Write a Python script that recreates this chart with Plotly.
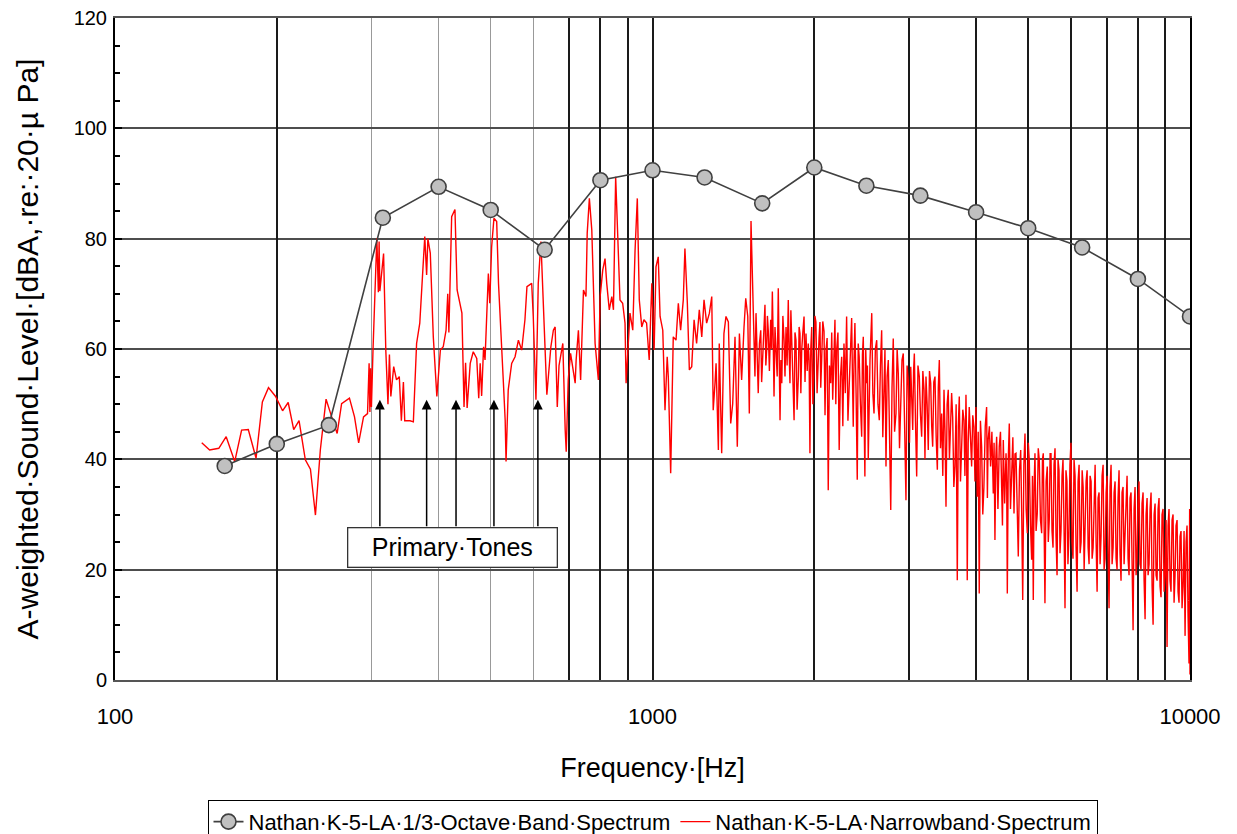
import math
import plotly.graph_objects as go

FONT = "Arial, 'Liberation Sans', Helvetica, sans-serif"

# 1/3-octave band spectrum
band_freqs = [160, 200, 250, 315, 400, 500, 630, 800, 1000, 1250, 1600, 2000,
              2500, 3150, 4000, 5000, 6300, 8000, 10000]
band_levels = [38.8, 42.8, 46.2, 83.8, 89.4, 85.2, 78.0, 90.6, 92.4, 91.1, 86.4, 92.9,
               89.6, 87.8, 84.8, 81.9, 78.4, 72.7, 65.9]

# narrowband spectrum (in chunks)
nb_f_a = [145, 150, 156, 161, 167, 172, 177, 183, 188, 193, 199, 205, 210, 215, 220, 226,
          231, 236, 241, 247, 253, 259, 264, 273, 279, 284, 290, 295, 297, 298, 299, 300, 302]
nb_l_a = [43.0, 41.7, 42.0, 44.1, 39.6, 45.3, 45.4, 40.2, 50.4, 53.0, 51.4, 48.8, 50.3, 45.4, 47.0, 39.9,
          38.2, 29.9, 41.7, 50.9, 47.7, 44.7, 50.1, 51.1, 47.7, 43.0, 47.7, 48.3, 57.4, 48.6, 56.5, 49.5, 59.8]

nb_f_b = [307, 309, 310, 311, 316, 319, 322, 324, 326, 330,
          334, 338, 341, 344, 346, 354, 359, 364, 369, 377,
          380, 382, 386, 391, 397, 403, 408, 413, 416, 418,
          423, 429, 433, 442, 446, 449, 452, 458, 464, 471,
          475, 478, 481, 485, 488, 495, 498, 502, 507, 513,
          517, 528, 532, 534, 536, 539, 547, 555, 563, 571,
          579, 584, 596, 600, 607, 613, 620, 626, 636, 647,
          654, 659, 665, 670, 681, 688, 691, 697, 704]
nb_l_b = [80.1, 70.3, 79.5, 70.5, 77.3, 59.8, 50.0, 59.0, 51.4, 56.8,
          54.4, 55.0, 47.0, 54.0, 47.0, 47.0, 46.8, 61.0, 64.7, 80.4,
          73.4, 80.0, 77.4, 62.2, 51.4, 59.8, 60.4, 63.4, 70.0, 63.0,
          84.0, 85.3, 70.7, 66.5, 49.5, 57.5, 49.3, 57.4, 59.5, 58.3,
          51.1, 57.4, 51.5, 60.4, 58.0, 73.7, 68.3, 78.5, 83.7, 83.1,
          71.9, 53.8, 47.1, 39.6, 45.0, 52.6, 57.4, 58.6, 61.6, 59.8,
          65.3, 71.3, 71.9, 65.9, 50.8, 71.9, 79.5, 68.3, 51.7, 60.4,
          63.4, 64.0, 49.5, 57.0, 61.0, 45.3, 41.4, 54.4, 59.2]

nb_f_c = [718, 721, 728, 735, 744, 752, 756, 763, 771, 782,
          793, 799, 808, 816, 822, 831, 840, 846, 854, 864,
          870, 880, 889, 893, 902, 908, 919, 928, 937, 945,
          955, 964, 975, 986, 997, 1007, 1015, 1025, 1033, 1045,
          1055, 1065, 1070, 1081, 1093, 1106, 1117, 1128, 1141, 1149,
          1161, 1171, 1183, 1195, 1208, 1222, 1235, 1247, 1261, 1276,
          1289, 1297, 1307, 1313, 1326, 1331, 1345, 1358, 1370, 1384,
          1398, 1410, 1424, 1438, 1451, 1465, 1480, 1491, 1504, 1514,
          1525]
nb_l_c = [53.8, 58.0, 63.4, 54.4, 70.7, 69.5, 81.0, 87.3, 81.6, 61.0,
          54.4, 69.5, 74.3, 76.4, 71.9, 67.1, 69.5, 67.1, 91.2, 75.5,
          68.9, 68.3, 64.7, 53.8, 62.2, 66.5, 63.4, 77.9, 87.3, 68.9,
          64.0, 65.3, 64.7, 58.0, 71.9, 59.8, 74.9, 76.7, 65.9, 63.4,
          48.9, 58.6, 55.0, 37.5, 62.2, 61.6, 68.3, 63.4, 68.9, 78.2,
          68.3, 56.2, 56.8, 65.3, 61.0, 67.1, 62.2, 68.9, 64.7, 66.5,
          69.5, 48.9, 53.8, 57.4, 41.7, 61.0, 41.1, 62.8, 65.9, 64.9,
          46.5, 50.1, 62.2, 42.3, 62.8, 54.4, 64.0, 69.2, 65.9, 48.3,
          83.2]

nb_f_d = [1545, 1551, 1558, 1565, 1573, 1581, 1590, 1596, 1603, 1611,
          1619, 1625, 1631, 1636, 1642, 1650, 1659, 1665, 1671, 1677,
          1683, 1690, 1698, 1706, 1714, 1720, 1727, 1733, 1740, 1748,
          1757, 1764, 1772, 1780, 1789, 1795, 1802, 1809, 1816, 1825,
          1834, 1841, 1849, 1858, 1868, 1874, 1881, 1888, 1895, 1904,
          1914, 1922, 1930, 1940, 1949, 1956, 1963, 1970, 1978, 1988,
          1997, 2005, 2014, 2024, 2034, 2041, 2049, 2056, 2064, 2074,
          2085, 2094, 2103, 2113, 2123, 2134, 2146, 2155, 2164, 2174,
          2185, 2193, 2201, 2213, 2225, 2237, 2249, 2260, 2271, 2284,
          2297, 2310, 2323, 2335, 2347, 2355, 2363, 2371, 2380, 2392,
          2404, 2414, 2424, 2437, 2450, 2458, 2467, 2475, 2484, 2493,
          2503, 2511, 2520, 2539]
nb_l_d = [62.2, 55, 66.5, 58, 52.0, 61, 63.4, 54, 58.0, 64,
          68.0, 57, 59.8, 66, 63.4, 56, 65.3, 60, 70.4, 62,
          51.4, 64, 59.8, 55, 71.0, 60, 47.1, 58, 53.8, 66,
          61.6, 55, 64.0, 57, 68.9, 60, 53.8, 67, 62.2, 56,
          47.1, 63, 61.6, 49, 55.0, 64, 62.8, 52, 59.8, 63,
          65.9, 54, 62.8, 56, 61.0, 58, 41.1, 60, 64.0, 50,
          55.6, 66, 64.9, 52, 59.8, 62, 64.9, 53, 58.0, 65,
          63.2, 48, 59.8, 62, 34.4, 57, 53.8, 63, 50.8, 58,
          65.3, 50, 59.8, 63, 41.7, 55, 58.6, 46, 61.0, 52,
          65.9, 47, 53.2, 60, 65.6, 55, 45.9, 58, 64.7, 52,
          36.3, 61, 58.6, 50, 44.1, 59, 62.2, 49, 36.9, 60,
          53.8, 57, 39.9, 58]

nb_f_e = [2558, 2570, 2583, 2598, 2613, 2627, 2642, 2655, 2669, 2682,
          2696, 2707, 2719, 2732, 2746, 2760, 2775, 2790, 2805, 2821,
          2838, 2852, 2866, 2881, 2896, 2912, 2928, 2945, 2962, 2976,
          2991, 3007, 3023, 3036, 3049, 3060, 3070, 3085, 3101, 3118,
          3136, 3152, 3168, 3184, 3200, 3213, 3227, 3243, 3259, 3276,
          3293, 3307, 3321, 3337, 3354, 3371, 3388, 3402, 3417, 3434,
          3451, 3468, 3486, 3501, 3516, 3533, 3550, 3568, 3587, 3602,
          3618, 3636, 3654, 3672, 3690, 3706, 3722, 3741, 3760, 3778,
          3797, 3813, 3830, 3840, 3851, 3867, 3884, 3904, 3924, 3943,
          3963, 3980, 3997, 4008, 4019, 4036, 4054, 4075, 4096, 4116,
          4136, 4160, 4184, 4198, 4212, 4234, 4256, 4280, 4305, 4320,
          4336, 4352, 4368, 4392, 4417, 4440, 4463, 4478, 4494, 4520,
          4547, 4560, 4572, 4591, 4611, 4635, 4659, 4682, 4705, 4725,
          4745, 4768, 4792, 4817, 4842, 4863, 4884, 4908, 4932, 4956,
          4981, 5002, 5023, 5049, 5075, 5092, 5110, 5128, 5147, 5172,
          5198, 5220, 5243, 5270, 5297, 5315, 5334, 5353, 5372, 5399,
          5426, 5449, 5472, 5492]
nb_l_e = [66.5, 52, 48.3, 60, 61.6, 50, 47.1, 57, 63.4, 44,
          50.8, 60, 38.7, 55, 58.0, 46, 30.8, 53, 61.9, 45,
          48.3, 60, 55.6, 42, 52.6, 58, 59.2, 44, 32.6, 57,
          54.4, 43, 56.8, 51, 45.3, 56, 59.2, 47, 36.9, 57,
          55.0, 48, 44.1, 56, 52.6, 40, 55.0, 50, 41.7, 56,
          53.8, 46, 42.3, 54, 55.0, 44, 38.1, 53, 58.0, 42,
          48.3, 37, 52.6, 45, 31.4, 50, 52.6, 40, 45.3, 52,
          47.7, 35, 38.7, 50, 18.1, 46, 51.4, 36, 42.3, 49,
          47.1, 37, 51.7, 44, 18.1, 43, 49.5, 44, 38.7, 48,
          45.9, 36, 49.5, 41, 33.2, 45, 15.7, 47, 42.3, 30,
          35.0, 46, 49.5, 33, 43.5, 46, 38.7, 45, 33.8, 43,
          25.4, 40, 44.1, 31, 42.3, 45, 35.0, 28, 43.5, 32,
          41.1, 36, 15.7, 40, 46.5, 31, 37.5, 44, 30.2, 41,
          41.1, 29, 22.4, 38, 41.7, 30, 14.5, 39, 44.7, 31,
          26.6, 43, 39.9, 28, 21.8, 37, 14.5, 35, 41.1, 27,
          30.2, 42, 39.9, 29, 26.6, 40, 41.1, 28, 13.9, 36,
          38.7, 25, 29.0, 41]

nb_f_f = [5513, 5537, 5561, 5585, 5609, 5633, 5658, 5682, 5706, 5730,
          5755, 5780, 5804, 5829, 5854, 5878, 5903, 5928, 5953, 5979,
          6005, 6031, 6058, 6085, 6112, 6138, 6165, 6191, 6218, 6245,
          6272, 6300, 6327, 6354, 6381, 6408, 6436, 6463, 6490, 6518,
          6546, 6575, 6603, 6631, 6660, 6688, 6717, 6745, 6774, 6803,
          6832, 6862, 6892, 6921, 6951, 6981, 7011, 7040, 7070, 7100,
          7131, 7162, 7193, 7224, 7255, 7286, 7317, 7348, 7379, 7410,
          7442, 7475, 7507, 7540, 7572, 7605, 7637, 7670, 7702, 7735,
          7768, 7802, 7836, 7870, 7903, 7937, 7971, 8005, 8038, 8073,
          8108, 8143, 8179, 8215, 8250, 8285, 8321, 8357, 8392, 8428,
          8464, 8501, 8538, 8575, 8611, 8648, 8685, 8722, 8758, 8796,
          8833, 8872, 8910, 8949, 8987, 9026, 9064, 9103, 9141, 9180,
          9219, 9260, 9300, 9340, 9380, 9420, 9461, 9501, 9541, 9582,
          9623, 9665, 9707, 9749, 9791, 9833, 9874, 9916, 9958, 9985,
          10000]
nb_l_f = [41, 27, 24, 39, 42, 26, 19, 40, 38, 23,
          27, 37, 40, 28, 13, 38, 36, 21, 26, 39,
          43, 25, 22, 40, 37, 24, 16, 36, 39, 23,
          25, 38, 35, 20, 28, 36, 38, 24, 21, 37,
          36, 22, 24, 35, 39, 25, 16, 33, 34, 21,
          26, 37, 39, 20, 22, 34, 37, 23, 13, 35,
          39, 21, 24, 34, 36, 22, 20, 33, 38, 23,
          18, 34, 35, 21, 25, 32, 37, 22, 19, 33,
          34, 20, 9, 31, 35, 19, 22, 33, 36, 21,
          20, 32, 34, 18, 11, 30, 33, 19, 21, 31,
          34, 17, 10, 30, 32, 19, 18, 31, 33, 17,
          15, 30, 31, 16, 19, 29, 6, 28, 31, 18,
          16, 29, 30, 14, 19, 28, 29, 16, 14, 26,
          27, 13, 17, 27, 8, 25, 28, 12, 3, 31,
          1]

narrow_freqs = nb_f_a + nb_f_b + nb_f_c + nb_f_d + nb_f_e + nb_f_f
narrow_levels = nb_l_a + nb_l_b + nb_l_c + nb_l_d + nb_l_e + nb_l_f

# primary tone frequencies marked by arrows
tone_freqs = [311, 380, 431, 507, 612]

# heavier vertical grid lines
dark_grid_freqs = [200, 700, 800, 900, 1000, 2000, 3000, 4000, 5000, 6000, 7000, 8000, 9000]

fig = go.Figure()

fig.add_trace(go.Scatter(
    x=narrow_freqs, y=narrow_levels, mode="lines",
    name="Nathan·K-5-LA·Narrowband·Spectrum",
    line=dict(color="#ff0000", width=1.4),
    legendrank=2,
))
# octave-band trace lives on the overlay x axis (identical log scale) so it
# draws above the narrowband line and the overlay axis renders its grid
fig.add_trace(go.Scatter(
    x=band_freqs, y=band_levels, mode="lines+markers",
    xaxis="x2", yaxis="y",
    name="Nathan·K-5-LA·1/3-Octave·Band·Spectrum",
    line=dict(color="#404040", width=1.6),
    marker=dict(size=15, color="#c0c0c0", line=dict(color="#404040", width=1.6)),
    legendrank=1,
))

for f in tone_freqs:
    fig.add_annotation(x=math.log10(f), y=50.8, ax=math.log10(f), ay=27.6,
                       xref="x", yref="y", axref="x", ayref="y",
                       showarrow=True, arrowhead=2, arrowsize=1.3, arrowwidth=1.5,
                       arrowcolor="black", text="")

fig.add_annotation(x=math.log10(425), y=24.1, xref="x", yref="y",
                   text="Primary·Tones", showarrow=False,
                   font=dict(size=25, color="black", family=FONT),
                   bgcolor="white", bordercolor="#333333", borderwidth=1.3,
                   borderpad=4, width=200, height=30)

fig.update_layout(
    width=1237, height=834,
    margin=dict(l=115, r=47, t=18, b=154, autoexpand=False),
    paper_bgcolor="white", plot_bgcolor="white",
    font=dict(family=FONT, color="black"),
    showlegend=True,
    legend=dict(orientation="h", x=0.5, xanchor="center", y=-0.181, yanchor="top",
                bordercolor="black", borderwidth=1, bgcolor="white",
                font=dict(size=22), traceorder="normal"),
    xaxis=dict(
        type="log", range=[2, 4], tickmode="linear", tick0=0, dtick=1,
        tickformat="d", showgrid=True, gridcolor="#1a1a1a", gridwidth=2,
        minor=dict(dtick="D1", showgrid=True, gridcolor="#999999", gridwidth=1),
        showline=True, linecolor="#555555", linewidth=2, mirror=True,
        ticks="", tickfont=dict(size=22), ticklabelstandoff=16, zeroline=False,
        title=dict(text="Frequency·[Hz]", font=dict(size=27), standoff=30),
    ),
    xaxis2=dict(
        type="log", range=[2, 4], overlaying="x", side="bottom",
        tickmode="array", tickvals=dark_grid_freqs, showticklabels=False, ticks="",
        showgrid=True, gridcolor="#1a1a1a", gridwidth=2, showline=False, zeroline=False,
    ),
    yaxis=dict(
        range=[0, 120], tick0=0, dtick=20, showgrid=True, gridcolor="#4d4d4d", gridwidth=1.5,
        showline=True, linecolor="black", linewidth=2, mirror=True,
        ticks="inside", ticklen=7, tickwidth=1.5, tickcolor="black",
        minor=dict(dtick=5, ticks="inside", ticklen=5, tickwidth=1.5, tickcolor="black", showgrid=False),
        tickfont=dict(size=20), ticklabelstandoff=2, zeroline=False,
        title=dict(text="A-weighted·Sound·Level·[dBA,·re:·20·µ Pa]", font=dict(size=30), standoff=26),
    ),
)

fig.write_html("out.html")
